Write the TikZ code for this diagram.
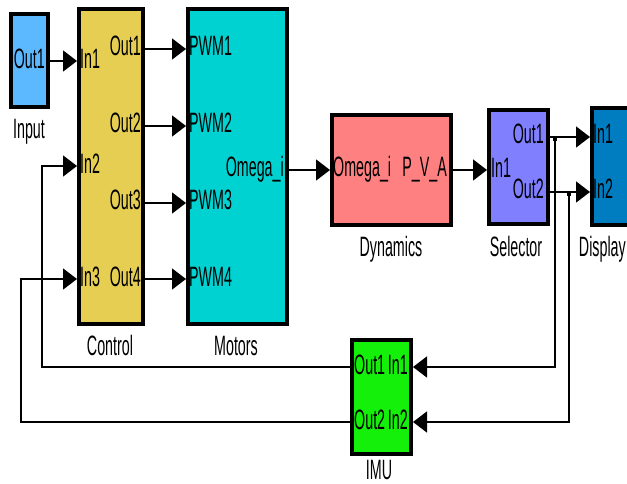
\documentclass[tikz,border=0pt]{standalone}
\usepackage{fontspec}
\setmainfont[FakeStretch=0.51]{Liberation Sans}
\usetikzlibrary{arrows.meta}
\definecolor{cInput}{RGB}{92,184,255}
\definecolor{cControl}{RGB}{230,206,82}
\definecolor{cMotors}{RGB}{0,210,210}
\definecolor{cDyn}{RGB}{255,128,128}
\definecolor{cSel}{RGB}{128,128,255}
\definecolor{cDisp}{RGB}{0,124,192}
\definecolor{cIMU}{RGB}{20,240,10}
\begin{document}
\begin{tikzpicture}[x=1pt,y=-1pt,
  blk/.style={draw=black,line width=4pt,inner sep=0pt},
  port/.style={font=\fontsize{28}{28}\selectfont,inner sep=0pt,text height=19pt,text depth=0pt},
  lbl/.style={font=\fontsize{28}{28}\selectfont,inner sep=0pt,anchor=base},
  wire/.style={line width=1.6pt,-{Triangle[length=14pt,width=21pt]}},
  plain/.style={line width=1.6pt}]
\useasboundingbox (0,0) rectangle (627,484);
% blocks
\node[blk,fill=cInput,minimum width=37pt,minimum height=93pt] (inp) at (29.5,61) {};
\node[blk,fill=cControl,minimum width=64pt,minimum height=315pt] (ctrl) at (111,166.5) {};
\node[blk,fill=cMotors,minimum width=99pt,minimum height=315pt] (mot) at (237.5,166.5) {};
\node[blk,fill=cDyn,minimum width=119pt,minimum height=110pt] (dyn) at (391.5,170) {};
\node[blk,fill=cSel,minimum width=59pt,minimum height=114pt] (sel) at (518.5,167) {};
\node[blk,fill=cDisp,minimum width=40pt,minimum height=117pt] (disp) at (612,166.5) {};
\node[blk,fill=cIMU,minimum width=59pt,minimum height=114pt] (imu) at (381.5,397) {};
% block names
\node[lbl] (linp) at (29,139) {Input};
\node[lbl] (lctrl) at (110,355) {Control};
\node[lbl] (lmot) at (236,355) {Motors};
\node[lbl] (ldyn) at (391,256) {Dynamics};
\node[lbl] (lsel) at (516,256) {Selector};
\node[lbl,anchor=base east] (ldisp) at (626,256) {Display};
\node[lbl] (limu) at (379,479) {IMU};
% port labels
\node[port,anchor=east] (pinp) at (45,59) {Out1};
\node[port,anchor=west] (pci1) at (80,59) {In1};
\node[port,anchor=west] (pci2) at (80,164) {In2};
\node[port,anchor=west] (pci3) at (80,277) {In3};
\node[port,anchor=east] (pco1) at (141,46) {Out1};
\node[port,anchor=east] (pco2) at (141,123) {Out2};
\node[port,anchor=east] (pco3) at (141,200) {Out3};
\node[port,anchor=east] (pco4) at (141,277) {Out4};
\node[port,anchor=west] (pm1) at (189,46) {PWM1};
\node[port,anchor=west] (pm2) at (189,123) {PWM2};
\node[port,anchor=west] (pm3) at (189,200) {PWM3};
\node[port,anchor=west] (pm4) at (189,277) {PWM4};
\node[port,anchor=east] (pmo) at (284,167) {Omega\_i};
\node[port,anchor=west] (pdi) at (333,167) {Omega\_i};
\node[port,anchor=east] (pdo) at (447,167) {P\_V\_A};
\node[port,anchor=west] (psi) at (491,168) {In1};
\node[port,anchor=east] (pso1) at (544,134) {Out1};
\node[port,anchor=east] (pso2) at (544,189) {Out2};
\node[port,anchor=west] (pdi1) at (593,134) {In1};
\node[port,anchor=west] (pdi2) at (593,189) {In2};
\node[port,anchor=west] (pio1) at (354,365) {Out1};
\node[port,anchor=west] (pio2) at (354,420) {Out2};
\node[port,anchor=east] (pii1) at (408,365) {In1};
\node[port,anchor=east] (pii2) at (408,420) {In2};
% port coordinates
\coordinate (j1) at (555,137);
\coordinate (j2) at (569,192);
\coordinate (fb1) at (42,367);
\coordinate (fb2) at (21,422);
% connectors
\draw[wire] (inp.east) -- (ctrl.west |- inp.east);
\foreach \yy in {49,126,203,279}
  \draw[wire] (ctrl.east |- 0,\yy) -- (mot.west |- 0,\yy);
\draw[wire] (mot.east |- 0,170) -- (dyn.west |- 0,170);
\draw[wire] (dyn.east |- 0,170) -- (sel.west |- 0,170);
\draw[wire] (sel.east |- j1) -- (disp.west |- j1);
\draw[wire] (sel.east |- j2) -- (disp.west |- j2);
\draw[wire] (j1) |- (imu.east |- 0,367);
\draw[wire] (j2) |- (imu.east |- 0,422);
\fill (j1) ++(-1.8,0) rectangle ++(3.6,4);
\fill (j2) ++(-1.8,0) rectangle ++(3.6,4);
\draw[wire] (imu.west |- fb1) -- (fb1) -- (fb1 |- 0,166) -- (ctrl.west |- 0,166);
\draw[wire] (imu.west |- fb2) -- (fb2) -- (fb2 |- 0,279) -- (ctrl.west |- 0,279);
\end{tikzpicture}
\end{document}
